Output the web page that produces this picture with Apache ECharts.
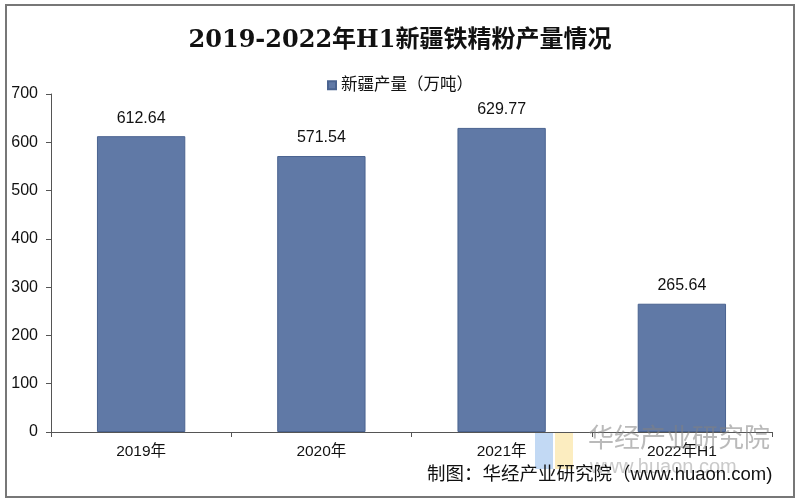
<!DOCTYPE html>
<html><head><meta charset="utf-8">
<script src="https://cdn.jsdelivr.net/npm/echarts@6/dist/echarts.min.js"></script>
<style>html,body{margin:0;padding:0;background:#fff}#c{width:800px;height:503px}</style>
</head><body><div id="c"></div>
<script>
const categories = ['2019年', '2020年', '2021年', '2022年H1'];
const values = [612.64, 571.54, 629.77, 265.64];
const yTicks = [0, 100, 200, 300, 400, 500, 600, 700];
const seriesName = '新疆产量（万吨）';
const titleText = '2019-2022年H1新疆铁精粉产量情况';
const sourceText = '制图：华经产业研究院（www.huaon.com)';

const chart = echarts.init(document.getElementById('c'));
chart.setOption({
  backgroundColor: '#fff',
  animation: false,
  title: {
    text: titleText, left: 'center', top: 24,
    textStyle: { fontFamily: 'DejaVu Serif, "Noto Sans CJK SC"', fontSize: 24, fontWeight: 'bold', color: '#111' }
  },
  legend: {
    data: [seriesName], top: 72, left: 'center',
    itemWidth: 8, itemHeight: 8, itemGap: 4,
    icon: 'rect',
    textStyle: { fontFamily: 'Liberation Sans, "Noto Sans CJK SC"', fontSize: 16.5, color: '#111' }
  },
  grid: { left: 51, right: 28, top: 94, bottom: 71, containLabel: false },
  xAxis: {
    type: 'category', data: categories,
    axisLine: { lineStyle: { color: '#555', width: 1 } },
    axisTick: { show: true, alignWithLabel: false, length: 5, lineStyle: { color: '#555' } },
    axisLabel: { fontFamily: 'Liberation Sans, "Noto Sans CJK SC"', fontSize: 15.5, color: '#111', margin: 12 }
  },
  yAxis: {
    type: 'value', min: 0, max: 700, interval: 100,
    axisLine: { show: true, lineStyle: { color: '#555', width: 1 } },
    axisTick: { show: true, length: 5, lineStyle: { color: '#555' } },
    splitLine: { show: false },
    axisLabel: { fontFamily: 'Liberation Sans, "Noto Sans CJK SC"', fontSize: 16, color: '#111', margin: 13,
      formatter: v => yTicks.includes(v) ? String(v) : '' }
  },
  series: [{
    name: seriesName, type: 'bar', data: values, barWidth: '49%',
    itemStyle: { color: '#6079a6', borderColor: '#4a6390', borderWidth: 1 },
    label: { show: true, position: 'top', distance: 10, color: '#111',
      fontFamily: 'Liberation Sans, "Noto Sans CJK SC"', fontSize: 16,
      formatter: p => p.value.toFixed(2) }
  }],
  graphic: [
    { type: 'rect', shape: { x: 6, y: 5, width: 788, height: 492 }, style: { fill: 'none', stroke: '#777', lineWidth: 2 }, z: 100 },
    { type: 'rect', shape: { x: 535, y: 433, width: 18, height: 36 }, style: { fill: 'rgba(120,170,230,0.45)' }, z: 50 },
    { type: 'rect', shape: { x: 555, y: 433, width: 18, height: 36 }, style: { fill: 'rgba(250,220,130,0.5)' }, z: 50 },
    { type: 'text', left: 588, top: 424, style: { text: '华经产业研究院', fontFamily: '"Noto Sans CJK SC"', fontSize: 26, fill: 'rgba(130,130,130,0.55)' }, z: 50 },
    { type: 'text', left: 590, top: 457, style: { text: 'www.huaon.com', fontFamily: 'Liberation Sans', fontSize: 20, fill: 'rgba(150,150,150,0.5)' }, z: 50 },
    { type: 'text', left: 427, top: 466, style: { text: sourceText, fontFamily: 'Liberation Sans, "Noto Sans CJK SC"', fontSize: 18.5, fill: '#111' }, z: 60 }
  ]
});
</script></body></html>
